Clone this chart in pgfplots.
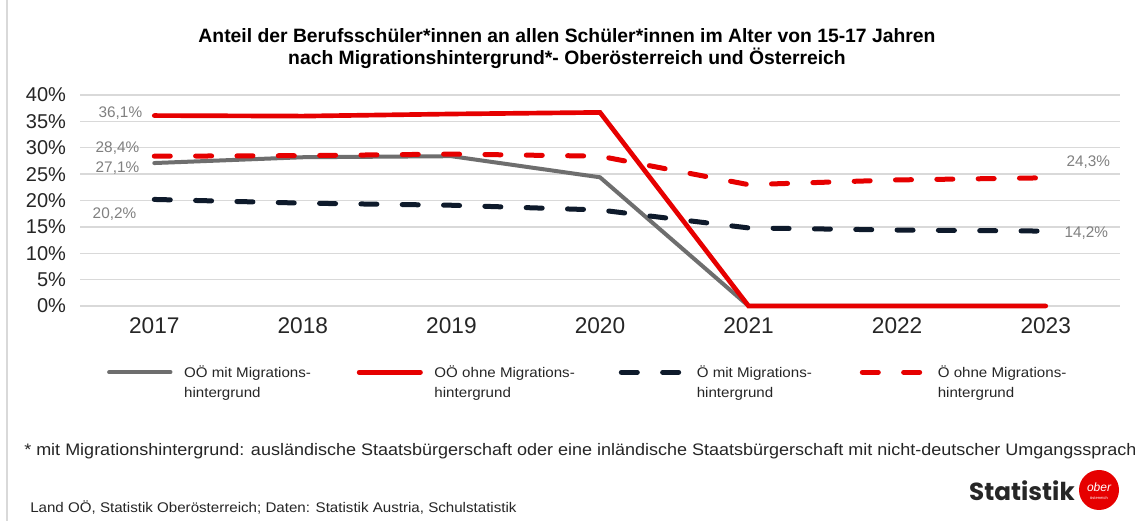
\documentclass[border=0pt]{standalone}
\usepackage{pgfplots}
\pgfplotsset{compat=1.18}
\usepackage{fontspec}
\setmainfont{Liberation Sans}
\newfontfamily\widefont[FakeStretch=1.08]{Liberation Sans}
\newfontfamily\footfont[FakeStretch=1.08]{Liberation Sans}
\newfontfamily\logofont{Poppins}
\definecolor{cred}{HTML}{E60000}
\definecolor{cgray}{HTML}{6E6E6E}
\definecolor{cnavy}{HTML}{0E1A2B}
\definecolor{cgrid}{HTML}{D9D9D9}
\definecolor{clab}{HTML}{808080}
\pgfplotstableread{
x y
0 27.1
1 28.2
2 28.4
3 24.4
4 0
5 0
6 0
}\ooemit
\pgfplotstableread{
x y
0 36.1
1 36.0
2 36.4
3 36.7
4 0
5 0
6 0
}\ooeohne
\pgfplotstableread{
x y
0 20.2
1 19.5
2 19.1
3 18.2
4 14.8
5 14.4
6 14.2
}\oemit
\pgfplotstableread{
x y
0 28.4
1 28.5
2 28.8
3 28.4
4 23.0
5 23.9
6 24.3
}\oeohne
\begin{document}
\begin{tikzpicture}[x=0.75pt,y=0.75pt]
\fill[white] (0,0) rectangle (1135,521);
\draw[cgrid,line width=1.5pt] (7,0) -- (7,521);
\node[font=\fontsize{14.5}{16.5}\selectfont\bfseries,align=center] at (567,472)
  {Anteil der Berufsschüler*innen an allen Schüler*innen im Alter von 15-17 Jahren\\nach Migrationshintergrund*- Oberösterreich und Österreich};
\begin{axis}[
  at={(60pt,161.25pt)}, anchor=south west,
  width=780pt, height=158.25pt, scale only axis,
  xmin=-0.5, xmax=6.5, ymin=0, ymax=40,
  xtick={0,...,6}, xticklabels={2017,2018,2019,2020,2021,2022,2023},
  ytick={0,5,...,40}, yticklabels={0\%,5\%,10\%,15\%,20\%,25\%,30\%,35\%,40\%},
  ymajorgrids, grid style={cgrid,line width=1.1pt},
  axis line style={draw=none}, major tick length=0pt,
  yticklabel style={font=\fontsize{15}{18}\selectfont, text=black!85, xshift=-7pt},
  xticklabel style={font=\fontsize{17}{20}\selectfont, text=black!85, yshift=-5pt},
  clip=false,
  legend columns=4,
  legend style={at={(0.022,-0.255)}, anchor=north west, draw=none, fill=none,
    font=\widefont\fontsize{10.5}{15}\selectfont, text=black!85,
    /tikz/every even column/.append style={column sep=0pt},
    /tikz/every odd column/.append style={column sep=6.75pt}},
  legend cell align=left,
  legend image code/.code={\draw[#1] (0pt,0pt) -- (46pt,0pt);},
]
\addplot[cgray, line width=3pt, line cap=round] table[x=x,y=y] {\ooemit};
\addlegendentry{\parbox[t]{127.5pt}{OÖ mit Migrations-\\hintergrund}}
\addplot[cred, line width=3.5pt, line cap=round] table[x=x,y=y] {\ooeohne};
\addlegendentry{\parbox[t]{136.25pt}{OÖ ohne Migrations-\\hintergrund}}
\addplot[cnavy, line width=3.75pt, line cap=round, dash pattern=on 12pt off 19pt] table[x=x,y=y] {\oemit};
\addlegendentry{\parbox[t]{120.25pt}{Ö mit Migrations-\\hintergrund}}
\addplot[cred, line width=3.75pt, line cap=round, dash pattern=on 12pt off 19pt] table[x=x,y=y] {\oeohne};
\addlegendentry{\parbox[t]{116.25pt}{Ö ohne Migrations-\\hintergrund}}
\begin{scope}[every node/.style={font=\fontsize{11.5}{14}\selectfont, text=clab}]
\node at (axis cs:-0.228,36.6) {36,1\%};
\node at (axis cs:-0.248,30.0) {28,4\%};
\node at (axis cs:-0.248,26.2) {27,1\%};
\node at (axis cs:-0.268,17.4) {20,2\%};
\node at (axis cs:6.287,27.3) {24,3\%};
\node at (axis cs:6.273,13.8) {14,2\%};
\end{scope}
\end{axis}
\node[anchor=west, font=\footfont\fontsize{12.5}{15}\selectfont, text=black!85, inner sep=0pt] at (24,70)
  {* mit Migrationshintergrund: ausländische Staatsbürgerschaft oder eine inländische Staatsbürgerschaft mit nicht-deutscher Umgangssprache};
\node[anchor=west, font=\widefont\fontsize{10.5}{13}\selectfont, text=black!85, inner sep=0pt] at (30,13)
  {Land OÖ, Statistik Oberösterreich; Daten: Statistik Austria, Schulstatistik};
\node[anchor=east, font=\logofont\fontsize{18.5}{20}\selectfont\bfseries, text=black!85, inner sep=0pt] at (1075,30) {Statistik};
\fill[cred] (1099,31) circle (20);
\node[text=white, font=\fontsize{9}{10}\selectfont\itshape, inner sep=0pt] at (1099,34) {ober};
\node[text=white, font=\fontsize{3}{3}\selectfont, inner sep=0pt] at (1099,23) {österreich};
\pgfresetboundingbox
\path[use as bounding box] (0,0) rectangle (1135,521);
\end{tikzpicture}
\end{document}
